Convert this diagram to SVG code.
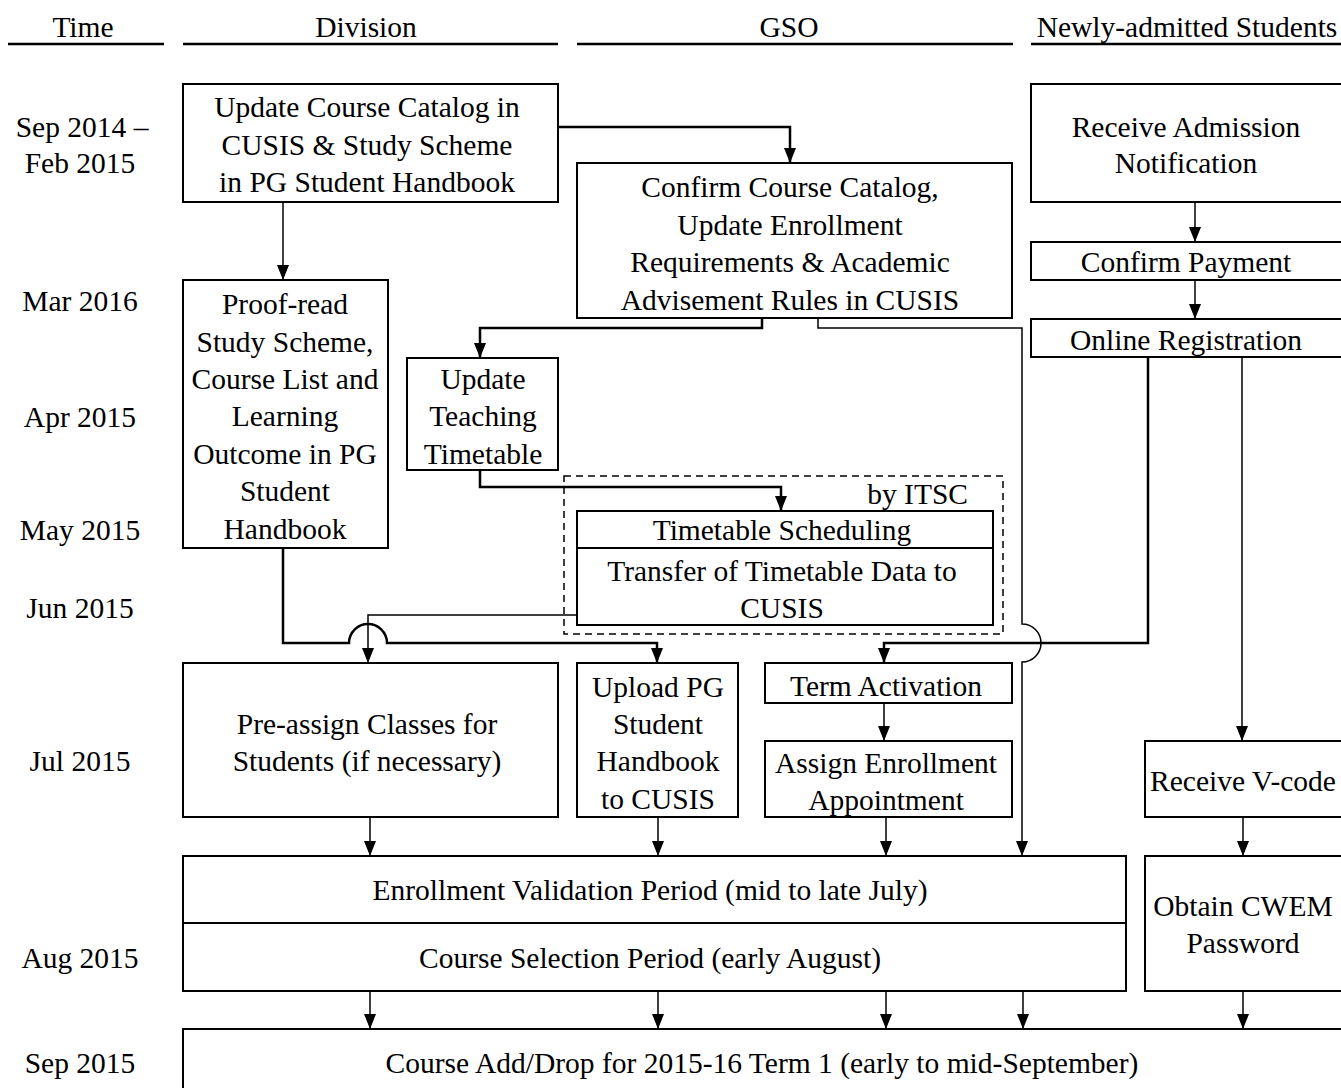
<svg xmlns="http://www.w3.org/2000/svg" width="1341" height="1088" viewBox="0 0 1341 1088">
<defs>
<style>
text{font-family:"Liberation Serif","Times New Roman",serif;font-size:29.5px;fill:#000;text-anchor:middle;dominant-baseline:central}
.box{fill:#fff;stroke:#000;stroke-width:2}
.hdr{stroke:#000;stroke-width:2.5}
.thin{fill:none;stroke:#000;stroke-width:1.5}
.thick{fill:none;stroke:#000;stroke-width:2.5}
.dash{fill:none;stroke:#000;stroke-width:1.5;stroke-dasharray:7,5}
</style>
<marker id="ah" viewBox="0 0 15 12" refX="15" refY="6" markerWidth="15" markerHeight="12" markerUnits="userSpaceOnUse" orient="auto">
<path d="M0,0 L15,6 L0,12 z" fill="#000"/>
</marker>
</defs>
<rect width="1341" height="1088" fill="#fff"/>

<g id="headers">
<text x="83" y="27">Time</text>
<line class="hdr" x1="8" y1="44" x2="164" y2="44"/>
<text x="366" y="27">Division</text>
<line class="hdr" x1="183" y1="44" x2="558" y2="44"/>
<text x="789" y="27">GSO</text>
<line class="hdr" x1="577" y1="44" x2="1013" y2="44"/>
<text x="1187" y="27">Newly-admitted Students</text>
<line class="hdr" x1="1031" y1="44" x2="1341" y2="44"/>
</g>

<g id="timeline">
<text x="82" y="127">Sep 2014 –</text>
<text x="80" y="163">Feb 2015</text>
<text x="80" y="301">Mar 2016</text>
<text x="80" y="417">Apr 2015</text>
<text x="80" y="530">May 2015</text>
<text x="80" y="608">Jun 2015</text>
<text x="80" y="761">Jul 2015</text>
<text x="80" y="958">Aug 2015</text>
<text x="80" y="1063">Sep 2015</text>
</g>

<g id="itsc-group">
<rect class="dash" x="564" y="476" width="439" height="158"/>
<text x="968" y="494" style="text-anchor:end">by ITSC</text>
</g>

<g id="update-catalog">
<rect class="box" x="183" y="84" width="375" height="118"/>
<text x="367" y="107">Update Course Catalog in</text>
<text x="367" y="145">CUSIS &amp; Study Scheme</text>
<text x="367" y="182">in PG Student Handbook</text>
</g>

<g id="confirm-catalog">
<rect class="box" x="577" y="163" width="435" height="155"/>
<text x="790" y="187">Confirm Course Catalog,</text>
<text x="790" y="225">Update Enrollment</text>
<text x="790" y="262">Requirements &amp; Academic</text>
<text x="790" y="300">Advisement Rules in CUSIS</text>
</g>

<g id="receive-admission">
<rect class="box" x="1031" y="84" width="316" height="118"/>
<text x="1186" y="127">Receive Admission</text>
<text x="1186" y="163">Notification</text>
</g>

<g id="confirm-payment">
<rect class="box" x="1031" y="242" width="316" height="38"/>
<text x="1186" y="262">Confirm Payment</text>
</g>

<g id="online-registration">
<rect class="box" x="1031" y="319" width="316" height="38"/>
<text x="1186" y="340">Online Registration</text>
</g>

<g id="proof-read">
<rect class="box" x="183" y="280" width="205" height="268"/>
<text x="285" y="304">Proof-read</text>
<text x="285" y="342">Study Scheme,</text>
<text x="285" y="379">Course List and</text>
<text x="285" y="416">Learning</text>
<text x="285" y="454">Outcome in PG</text>
<text x="285" y="491">Student</text>
<text x="285" y="529">Handbook</text>
</g>

<g id="update-timetable">
<rect class="box" x="407" y="358" width="151" height="112"/>
<text x="483" y="379">Update</text>
<text x="483" y="416">Teaching</text>
<text x="483" y="454">Timetable</text>
</g>

<g id="timetable-scheduling">
<rect class="box" x="577" y="511" width="416" height="37"/>
<text x="782" y="530">Timetable Scheduling</text>
</g>

<g id="transfer-data">
<rect class="box" x="577" y="548" width="416" height="77"/>
<text x="782" y="571">Transfer of Timetable Data to</text>
<text x="782" y="608">CUSIS</text>
</g>

<g id="pre-assign">
<rect class="box" x="183" y="663" width="375" height="154"/>
<text x="367" y="724">Pre-assign Classes for</text>
<text x="367" y="761">Students (if necessary)</text>
</g>

<g id="upload-handbook">
<rect class="box" x="577" y="663" width="161" height="154"/>
<text x="658" y="687">Upload PG</text>
<text x="658" y="724">Student</text>
<text x="658" y="761">Handbook</text>
<text x="658" y="799">to CUSIS</text>
</g>

<g id="term-activation">
<rect class="box" x="765" y="663" width="247" height="40"/>
<text x="886" y="686">Term Activation</text>
</g>

<g id="assign-appointment">
<rect class="box" x="765" y="741" width="247" height="76"/>
<text x="886" y="763">Assign Enrollment</text>
<text x="886" y="800">Appointment</text>
</g>

<g id="receive-vcode">
<rect class="box" x="1145" y="741" width="202" height="76"/>
<text x="1243" y="781">Receive V-code</text>
</g>

<g id="validation-selection">
<rect class="box" x="183" y="856" width="943" height="135"/>
<line x1="183" y1="923" x2="1126" y2="923" stroke="#000" stroke-width="2"/>
<text x="650" y="890">Enrollment Validation Period (mid to late July)</text>
<text x="650" y="958">Course Selection Period (early August)</text>
</g>

<g id="obtain-cwem">
<rect class="box" x="1145" y="856" width="202" height="135"/>
<text x="1243" y="906">Obtain CWEM</text>
<text x="1243" y="943">Password</text>
</g>

<g id="add-drop">
<rect class="box" x="183" y="1029" width="1164" height="70"/>
<text x="762" y="1063">Course Add/Drop for 2015-16 Term 1 (early to mid-September)</text>
</g>

<g id="connectors">
<path class="thin" d="M283,202 V280" marker-end="url(#ah)"/>
<path class="thick" d="M558,127 H790 V163" marker-end="url(#ah)"/>
<path class="thin" d="M1195,202 V242" marker-end="url(#ah)"/>
<path class="thin" d="M1195,280 V319" marker-end="url(#ah)"/>
<path class="thick" d="M762,318 V328 H480 V358" marker-end="url(#ah)"/>
<path class="thin" d="M818,318 V328 H1022 V624 A19,19 0 0 1 1022,662 V856" marker-end="url(#ah)"/>
<path class="thick" d="M480,470 V487 H781 V511" marker-end="url(#ah)"/>
<path class="thin" d="M577,615 H368 V663" marker-end="url(#ah)"/>
<path class="thick" d="M283,548 V643 H349 A19,19 0 0 1 387,643 H657 V663" marker-end="url(#ah)"/>
<path class="thick" d="M1148,358 V643 H884 V663" marker-end="url(#ah)"/>
<path class="thin" d="M1242,358 V741" marker-end="url(#ah)"/>
<path class="thin" d="M884,703 V741" marker-end="url(#ah)"/>
<path class="thin" d="M370,817 V856" marker-end="url(#ah)"/>
<path class="thin" d="M658,817 V856" marker-end="url(#ah)"/>
<path class="thin" d="M886,817 V856" marker-end="url(#ah)"/>
<path class="thin" d="M1243,817 V856" marker-end="url(#ah)"/>
<path class="thin" d="M370,991 V1029" marker-end="url(#ah)"/>
<path class="thin" d="M658,991 V1029" marker-end="url(#ah)"/>
<path class="thin" d="M886,991 V1029" marker-end="url(#ah)"/>
<path class="thin" d="M1023,991 V1029" marker-end="url(#ah)"/>
<path class="thin" d="M1243,991 V1029" marker-end="url(#ah)"/>
</g>
</svg>
